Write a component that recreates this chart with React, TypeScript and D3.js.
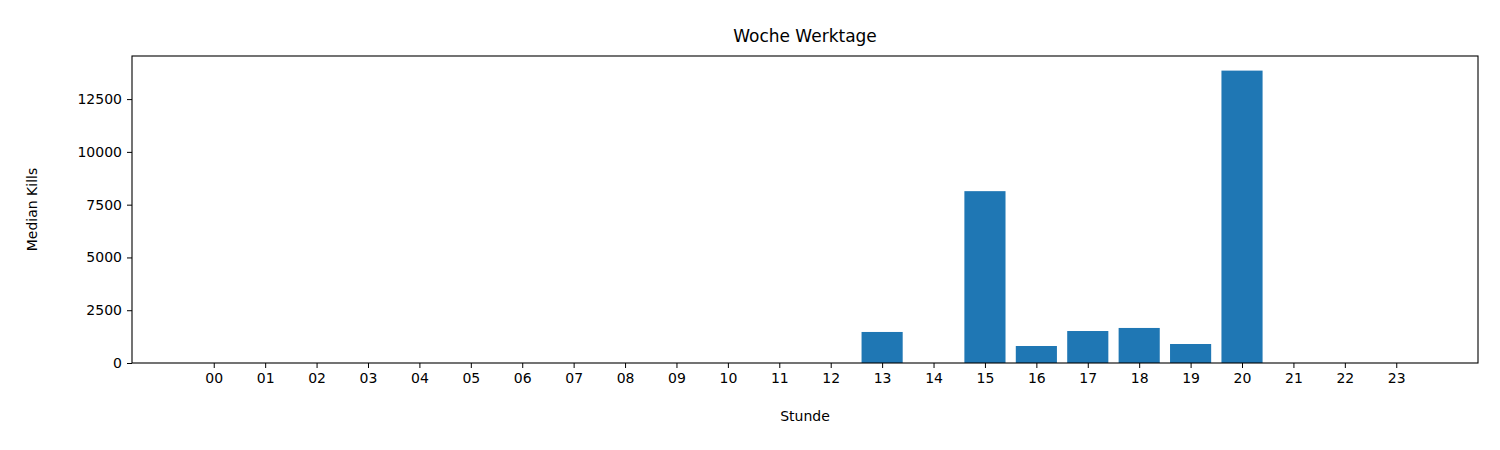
import { useEffect, useRef } from "react";
import * as d3 from "d3";

const hours = ["00","01","02","03","04","05","06","07","08","09","10","11","12","13","14","15","16","17","18","19","20","21","22","23"];
const kills = [0,0,0,0,0,0,0,0,0,0,0,0,0,1470,0,8140,805,1515,1660,900,13850,0,0,0];
const yTicks = [0, 2500, 5000, 7500, 10000, 12500];

export default function App() {
  const ref = useRef<SVGSVGElement>(null);

  useEffect(() => {
    const svg = d3.select(ref.current);
    svg.selectAll("*").remove();
    const left = 132, right = 1478, top = 56, bottom = 363;
    const font = "DejaVu Sans, sans-serif";

    const x = d3.scaleLinear().domain([-1.59, 24.59]).range([left, right]);
    const y = d3.scaleLinear().domain([0, 14542]).range([bottom, top]);
    const bw = x(0.8) - x(0);

    svg.append("g").selectAll("rect").data(kills).join("rect")
      .attr("x", (_, i) => x(i - 0.4))
      .attr("y", (d) => y(d))
      .attr("width", bw)
      .attr("height", (d) => bottom - y(d))
      .attr("fill", "#1f77b4");

    const xa = svg.append("g").attr("transform", `translate(0,${bottom})`)
      .call(d3.axisBottom(x).tickValues(d3.range(24)).tickFormat((d) => hours[d as number]).tickSize(5).tickPadding(5));
    const ya = svg.append("g").attr("transform", `translate(${left},0)`)
      .call(d3.axisLeft(y).tickValues(yTicks).tickFormat(d3.format("d")).tickSize(5).tickPadding(5));
    [xa, ya].forEach((a) => {
      a.select(".domain").remove();
      a.selectAll("text").attr("font-family", font).attr("font-size", 14).attr("fill", "#000");
      a.selectAll("line").attr("stroke", "#000");
    });

    svg.append("rect").attr("x", left).attr("y", top).attr("width", right - left).attr("height", bottom - top)
      .attr("fill", "none").attr("stroke", "#000").attr("stroke-width", 1.1);

    svg.append("text").attr("x", (left + right) / 2).attr("y", 42).attr("text-anchor", "middle")
      .attr("font-family", font).attr("font-size", 17).text("Woche Werktage");
    svg.append("text").attr("x", (left + right) / 2).attr("y", 421).attr("text-anchor", "middle")
      .attr("font-family", font).attr("font-size", 14).text("Stunde");
    svg.append("text").attr("transform", `translate(37,${(top + bottom) / 2}) rotate(-90)`).attr("text-anchor", "middle")
      .attr("font-family", font).attr("font-size", 14).text("Median Kills");
  }, []);

  return <svg ref={ref} width={1500} height={450} style={{ position: "absolute", left: 0, top: 0, background: "#fff" }} />;
}
